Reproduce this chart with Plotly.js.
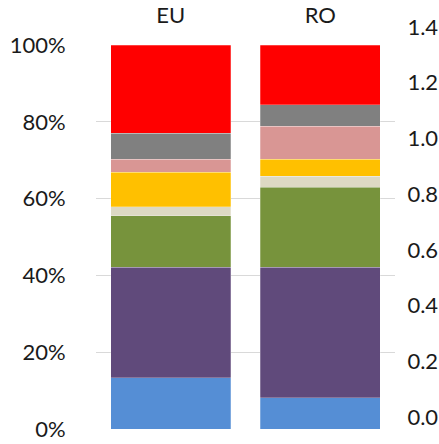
<!DOCTYPE html>
<html>
<head>
<meta charset="utf-8">
<script src="https://cdn.plot.ly/plotly-3.0.1.min.js"></script>
<style>html,body{margin:0;padding:0;background:#fff;}#chart{width:439px;height:444px;}</style>
</head>
<body>
<div id="chart"></div>
<script>
const categories = ["EU", "RO"];
const segBlue   = [13.3, 8.2];
const segPurple = [28.8, 33.9];
const segGreen  = [13.4, 20.8];
const segBeige  = [2.4, 2.9];
const segYellow = [8.9, 4.5];
const segPink   = [3.4, 8.5];
const segGray   = [6.8, 5.6];
const segRed    = [23.0, 15.6];
const leftTicks = [0, 20, 40, 60, 80, 100];
const rightTicks = [0, 0.2, 0.4, 0.6, 0.8, 1.0, 1.2, 1.4];

const series = [
  {name: "Blue", y: segBlue, color: "#558ED5"},
  {name: "Purple", y: segPurple, color: "#604A7B"},
  {name: "Green", y: segGreen, color: "#77933C"},
  {name: "Beige", y: segBeige, color: "#DDD9C3"},
  {name: "Yellow", y: segYellow, color: "#FFC000"},
  {name: "Pink", y: segPink, color: "#D99694"},
  {name: "Gray", y: segGray, color: "#808080"},
  {name: "Red", y: segRed, color: "#FF0000"}
];

const traces = series.map(s => ({
  type: "bar",
  x: categories,
  y: s.y,
  name: s.name,
  marker: {color: s.color, line: {color: "rgba(255,255,255,0.5)", width: 0.5}},
  hoverinfo: "skip"
}));

// empty helper trace so that the secondary (right) axis is drawn
traces.push({
  type: "scatter",
  mode: "none",
  x: categories,
  y: categories.map(() => null),
  xaxis: "x",
  yaxis: "y2",
  showlegend: false,
  hoverinfo: "skip"
});

const font = {family: "Lato, 'Open Sans', sans-serif", size: 22, color: "#1a1a1a"};
const H = 444, T = 20, B = 10;
const paperH = H - T - B;
function dom(yBottomPx, yTopPx) {
  return [(H - B - yBottomPx) / paperH, (H - B - yTopPx) / paperH];
}

const layout = {
  width: 439,
  height: 444,
  margin: {l: 96, r: 44, t: T, b: B, pad: 0},
  paper_bgcolor: "#ffffff",
  plot_bgcolor: "rgba(0,0,0,0)",
  barmode: "stack",
  bargap: 0.2,
  showlegend: false,
  font: font,
  xaxis: {
    side: "top",
    anchor: "y",
    domain: [0, 1],
    type: "category",
    showgrid: false,
    zeroline: false,
    showline: false,
    ticks: "outside",
    ticklen: 12,
    tickcolor: "rgba(0,0,0,0)",
    tickfont: font
  },
  yaxis: {
    domain: dom(429, 45),
    range: [0, 100],
    tickvals: leftTicks,
    ticktext: leftTicks.map(v => v + "%"),
    showgrid: true,
    gridcolor: "#D9D9D9",
    gridwidth: 1.3,
    zeroline: false,
    showline: false,
    ticks: "outside",
    ticklen: 25,
    tickcolor: "rgba(0,0,0,0)",
    tickfont: font
  },
  yaxis2: {
    anchor: "x",
    side: "right",
    domain: dom(417, 27),
    range: [0, 1.4],
    autorange: false,
    tickvals: rightTicks,
    ticktext: rightTicks.map(v => v.toFixed(1)),
    showgrid: false,
    zeroline: false,
    showline: false,
    ticks: "outside",
    ticklen: 7,
    tickcolor: "rgba(0,0,0,0)",
    tickfont: font
  }
};

Plotly.newPlot("chart", traces, layout, {displayModeBar: false, staticPlot: true});
</script>
</body>
</html>
